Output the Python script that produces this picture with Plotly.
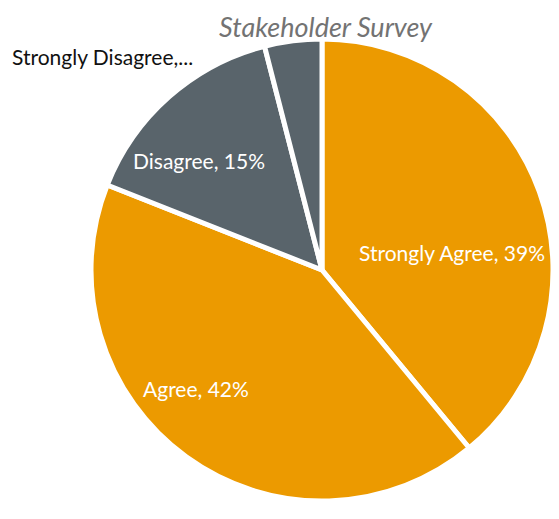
import plotly.graph_objects as go

categories = ["Strongly Agree", "Agree", "Disagree", "Strongly Disagree"]
shares = [39, 42, 15, 4]
colors = ["#EC9A00", "#EC9A00", "#59646B", "#59646B"]

W, H = 559, 519
OFF = 8  # browser body margin
cx, cy, r = 322 - OFF, 270 - OFF, 231

# label anchor points on screen (px), and how each label is shown
label_pos = [(452, 252), (196, 388), (199, 160), (10, 57)]
label_anchor = ["center", "center", "center", "left"]
label_color = ["white", "white", "white", "#111111"]
FONT = "Lato, Open Sans, sans-serif"

fig = go.Figure(
    go.Pie(
        labels=categories,
        values=shares,
        textinfo="none",
        sort=False,
        direction="clockwise",
        rotation=0,
        marker=dict(colors=colors, line=dict(color="white", width=5)),
        domain=dict(
            x=[(cx - r) / W, (cx + r) / W],
            y=[(H - cy - r) / H, (H - cy + r) / H],
        ),
        showlegend=False,
        hoverinfo="label+percent",
    )
)

for i, (cat, val) in enumerate(zip(categories, shares)):
    txt = f"{cat}, {val}%"
    if label_anchor[i] == "left":
        txt = f"{cat},..."
    px, py = label_pos[i]
    fig.add_annotation(
        text=txt,
        x=(px - OFF) / W, xref="paper", xanchor=label_anchor[i],
        y=1 - (py - OFF) / H, yref="paper", yanchor="middle",
        showarrow=False,
        font=dict(family=FONT, size=21, color=label_color[i]),
    )

# title as a paper annotation so it sits flush with the top
fig.add_annotation(
    text="<i>Stakeholder Survey</i>",
    x=(326 - OFF) / W, xref="paper", xanchor="center",
    y=1, yref="paper", yanchor="top",
    showarrow=False,
    font=dict(family=FONT, size=27, color="#737373"),
)

fig.update_layout(
    width=W,
    height=H,
    margin=dict(l=0, r=0, t=0, b=0),
    paper_bgcolor="white",
)

fig.write_html("out.html")
